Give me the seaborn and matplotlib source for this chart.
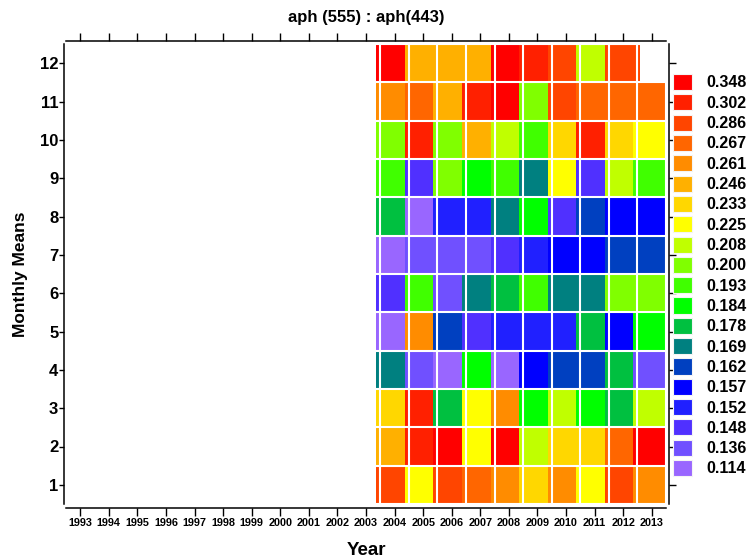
import matplotlib
matplotlib.use("Agg")
import matplotlib.pyplot as plt
from matplotlib.colors import ListedColormap, BoundaryNorm
from matplotlib.patches import Patch
from matplotlib.transforms import Affine2D
import seaborn as sns
import numpy as np
import pandas as pd

nan = np.nan

years = list(range(1993, 2014))
months = list(range(1, 13))

# colour classes shown in the legend, low -> high
levels = [0.114, 0.136, 0.148, 0.152, 0.157, 0.162, 0.169, 0.178, 0.184, 0.193,
          0.200, 0.208, 0.225, 0.233, 0.246, 0.261, 0.267, 0.286, 0.302, 0.348]
level_colors = ['#9966ff', '#7050ff', '#5030ff', '#2020ff', '#0000ff', '#0040c0',
                '#008080', '#00c040', '#00ff00', '#40ff00', '#80ff00', '#c0ff00',
                '#ffff00', '#ffd700', '#ffb000', '#ff8c00', '#ff6600', '#ff4500',
                '#ff2000', '#ff0000']

# monthly means Jan..Dec (only 2004-2013 have data)
y2004 = [0.286, 0.246, 0.233, 0.169, 0.114, 0.148, 0.114, 0.178, 0.193, 0.200, 0.261, 0.348]
y2005 = [0.225, 0.302, 0.302, 0.136, 0.261, 0.193, 0.136, 0.114, 0.148, 0.302, 0.267, 0.246]
y2006 = [0.286, 0.348, 0.178, 0.114, 0.162, 0.136, 0.136, 0.152, 0.200, 0.200, 0.246, 0.246]
y2007 = [0.267, 0.225, 0.225, 0.184, 0.148, 0.169, 0.136, 0.152, 0.184, 0.246, 0.302, 0.246]
y2008 = [0.261, 0.348, 0.261, 0.114, 0.152, 0.178, 0.148, 0.169, 0.193, 0.208, 0.348, 0.348]
y2009 = [0.233, 0.208, 0.184, 0.157, 0.152, 0.193, 0.152, 0.184, 0.169, 0.193, 0.200, 0.302]
y2010 = [0.261, 0.233, 0.208, 0.162, 0.152, 0.169, 0.157, 0.148, 0.225, 0.233, 0.286, 0.286]
y2011 = [0.225, 0.233, 0.184, 0.162, 0.178, 0.169, 0.157, 0.162, 0.148, 0.302, 0.267, 0.208]
y2012 = [0.286, 0.267, 0.178, 0.178, 0.157, 0.200, 0.162, 0.157, 0.208, 0.233, 0.267, 0.286]
y2013 = [0.261, 0.348, 0.208, 0.136, 0.184, 0.200, 0.162, 0.157, 0.193, 0.225, 0.267, nan]

data = {y: [nan] * 12 for y in years}
data.update({2004: y2004, 2005: y2005, 2006: y2006, 2007: y2007, 2008: y2008,
             2009: y2009, 2010: y2010, 2011: y2011, 2012: y2012, 2013: y2013})
df = pd.DataFrame(data, index=months)

sns.set_theme(style="white")
plt.rcParams['font.family'] = ['Liberation Sans', 'DejaVu Sans']
plt.rcParams['font.weight'] = 'bold'
plt.rcParams['text.color'] = 'black'
plt.rcParams['axes.labelcolor'] = 'black'

cmap = ListedColormap(level_colors)
bounds = [levels[0] - 0.01] + [(a + b) / 2 for a, b in zip(levels[:-1], levels[1:])] + [levels[-1] + 0.01]
norm = BoundaryNorm(bounds, cmap.N)

fig = plt.figure(figsize=(7.55, 5.6), dpi=100)
ax = fig.add_axes([66 / 755, 1 - 504 / 560, 600 / 755, 460 / 560])

# cells are drawn slightly offset, giving the thin edge strips of the original
sns.heatmap(df, cmap=cmap, norm=norm, cbar=False, ax=ax)
ax.collections[-1].set_transform(Affine2D().translate(0.1, 0) + ax.transData)
sns.heatmap(df, cmap=cmap, norm=norm, cbar=False, ax=ax)
ax.collections[-1].set_transform(Affine2D().translate(-0.14, 0) + ax.transData)

for i in range(11, len(years) + 1):
    ax.axvline(i, color='white', lw=1.5)
for j in range(len(months) + 1):
    ax.axhline(j, color='white', lw=1.5)

ax.set_xlim(0, len(years))
ax.set_ylim(0, len(months))

ax.set_xticks(np.arange(len(years)) + 0.5)
ax.set_xticklabels([str(y) for y in years], rotation=0)
ax.set_yticks(np.arange(len(months)) + 0.5)
ax.set_yticklabels([str(m) for m in months], rotation=0)

for side, off in [('left', 1.5), ('top', 2.2), ('bottom', 2.9), ('right', 2.2)]:
    ax.spines[side].set_visible(True)
    ax.spines[side].set_color('black')
    ax.spines[side].set_linewidth(1.1)
    ax.spines[side].set_position(('outward', off))

ax.tick_params(axis='x', top=True, bottom=True, direction='out', length=5.5,
               width=1, color='black', pad=2, labelcolor='black', labelsize=7.8)
ax.tick_params(axis='y', left=True, right=True, direction='out', length=3.5,
               width=1, color='black', pad=0.5, labelcolor='black', labelsize=12)
for t in ax.yaxis.get_major_ticks():
    t.tick2line.set_markersize(5)

ax.set_title('aph (555) : aph(443)', fontsize=12, fontweight='bold', pad=16, color='black')
ax.set_xlabel('Year', fontsize=13.5, fontweight='bold')
ax.set_ylabel('Monthly Means', fontsize=12.5, fontweight='bold')
ax.xaxis.set_label_coords(0.5, -0.082)
ax.yaxis.set_label_coords(-0.063, 0.5)

handles = [Patch(facecolor=c, edgecolor='#f4f4f4', linewidth=0.8) for c in level_colors[::-1]]
labels = [f"{v:.3f}" for v in levels[::-1]]
fig.legend(handles, labels, loc='upper left', bbox_to_anchor=(673 / 755, 1 - 74 / 560),
           frameon=False, borderpad=0, borderaxespad=0, handlelength=1.18,
           handleheight=1.18, handletextpad=0.9, labelspacing=0.24,
           prop={'weight': 'bold', 'size': 11.5}, labelcolor='black')

fig.savefig('out.png', dpi=100)
